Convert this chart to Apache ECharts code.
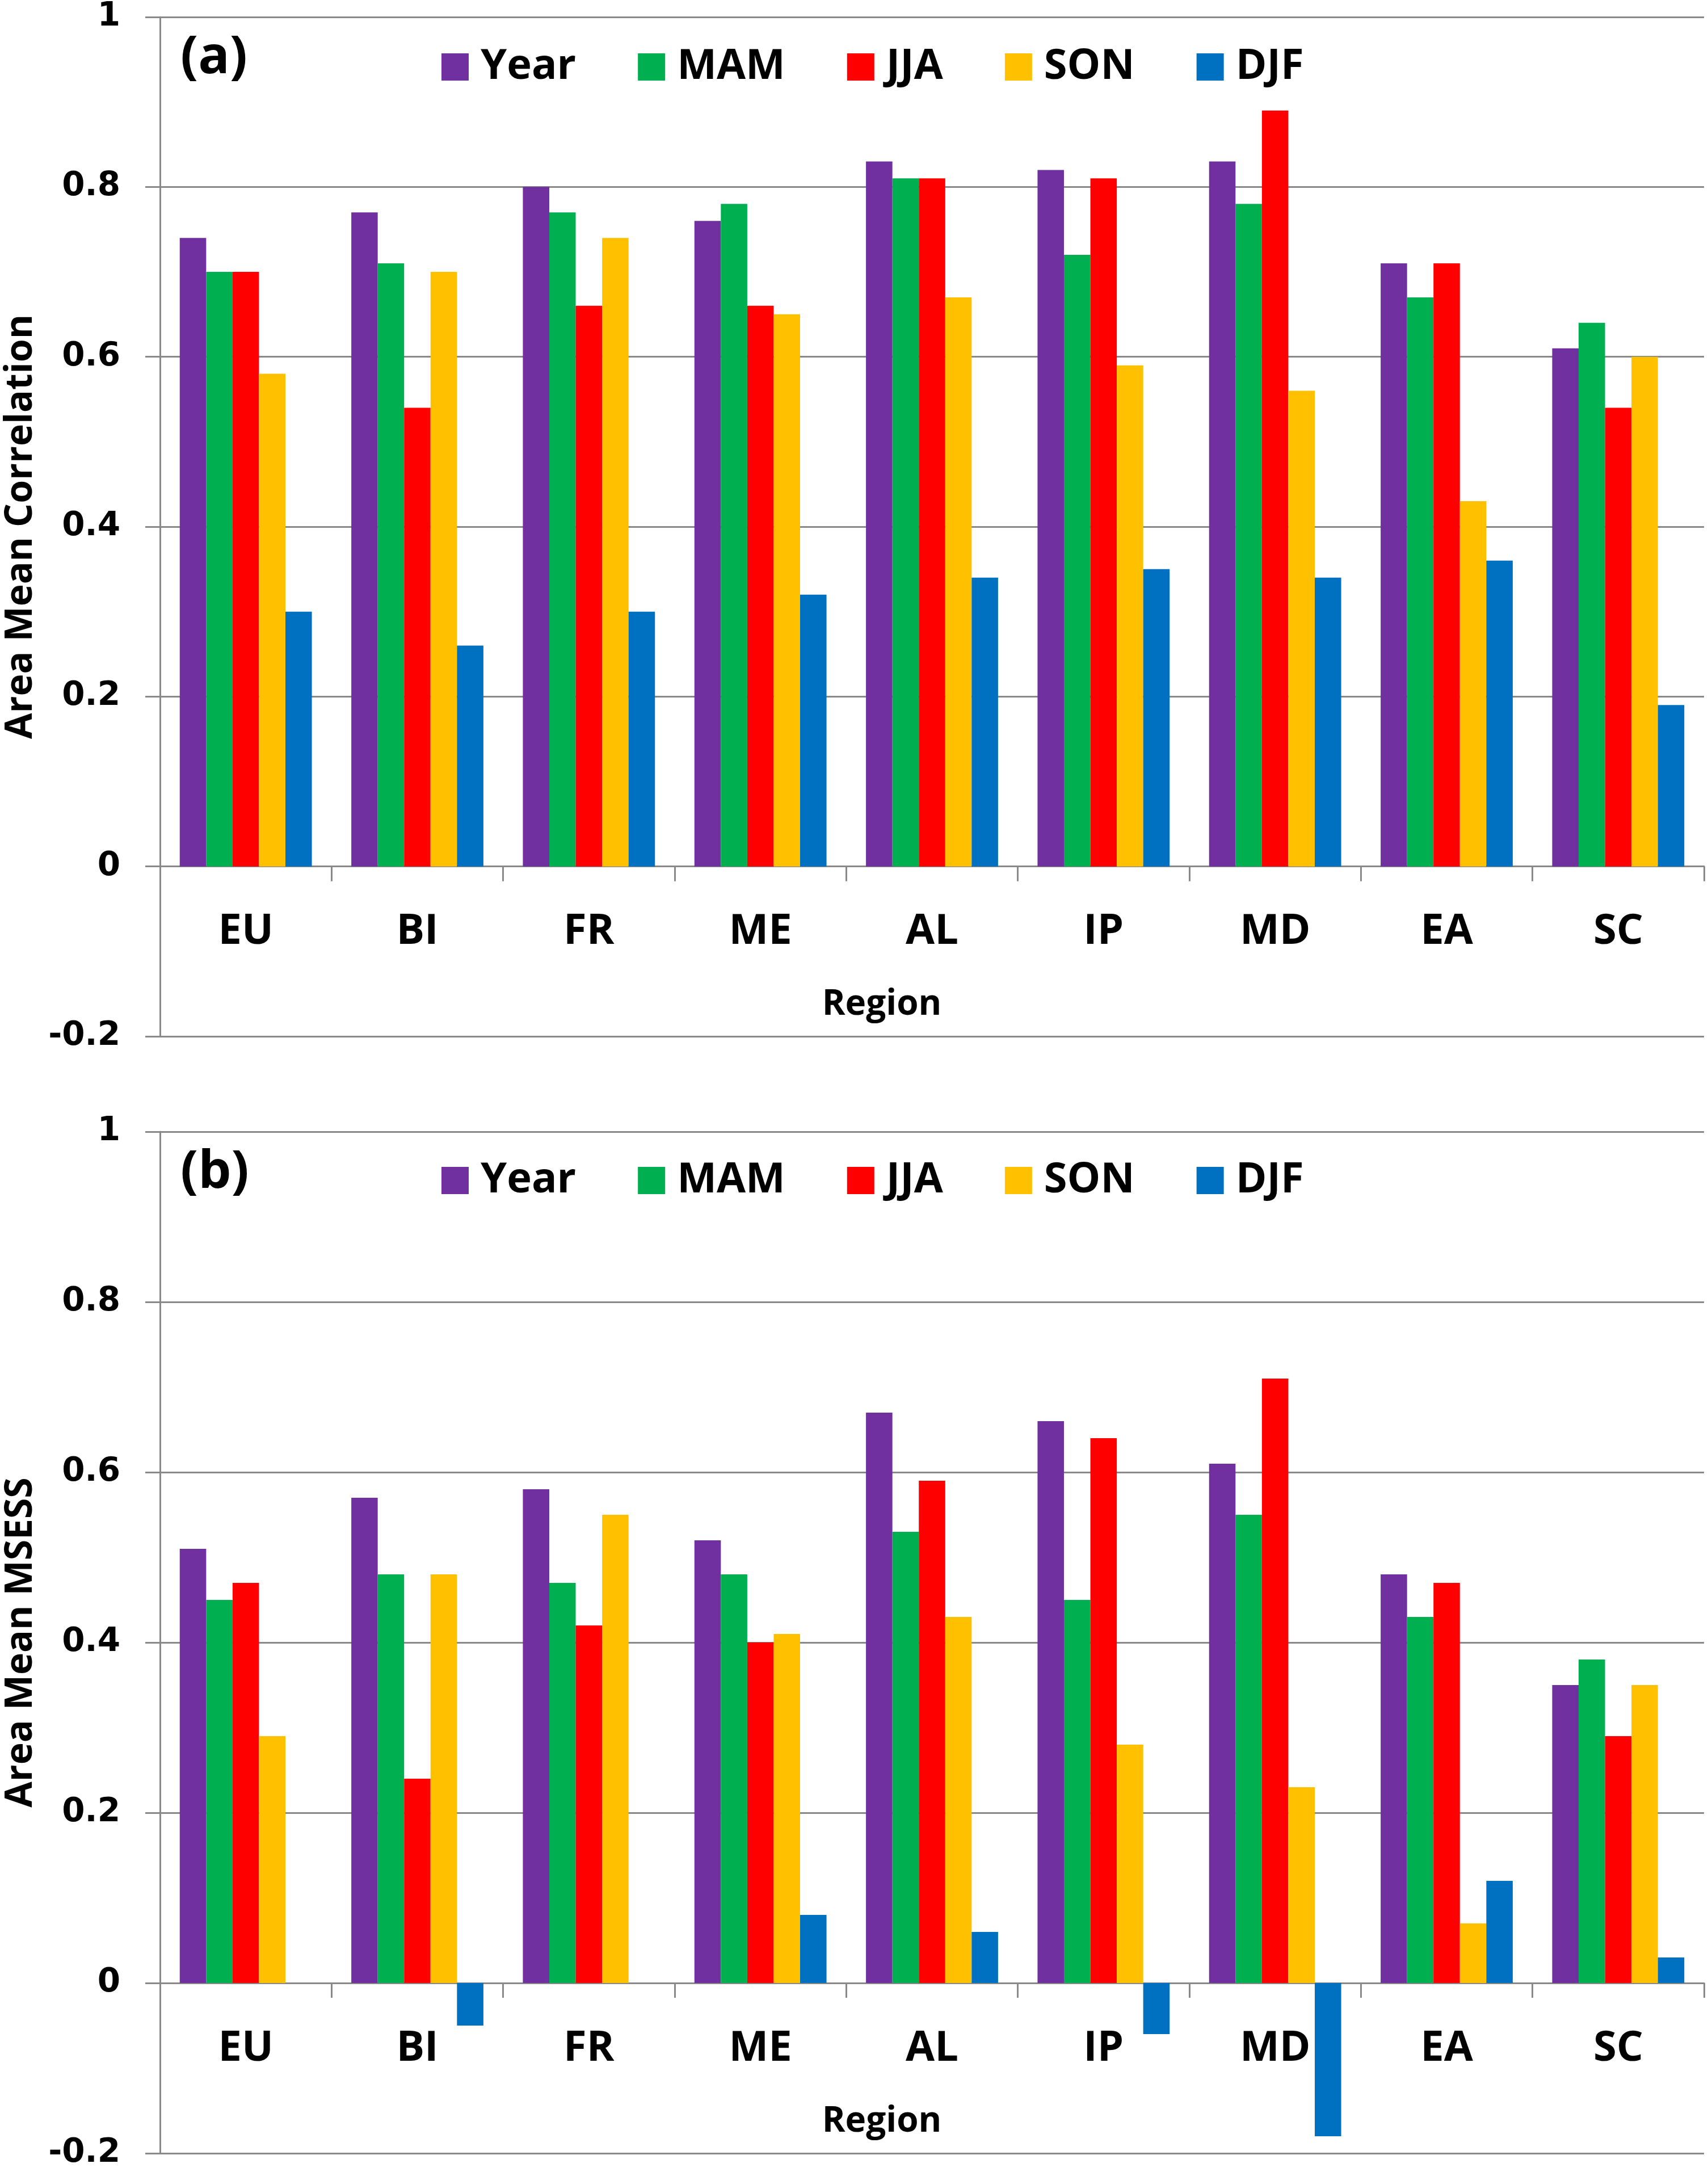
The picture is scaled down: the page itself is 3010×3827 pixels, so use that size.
<!DOCTYPE html>
<html>
<head>
<meta charset="utf-8">
<title>Area mean correlation and MSESS by region</title>
<script src="https://cdn.jsdelivr.net/npm/echarts@6/dist/echarts.min.js"></script>
<style>
	html, body { margin: 0; padding: 0; background: #fff; }
	#chart { width: 3010px; height: 3827px; }
</style>
</head>
<body>
<div id="chart"></div>
<script>
	// regions on the x axis
	var regions = ['EU', 'BI', 'FR', 'ME', 'AL', 'IP', 'MD', 'EA', 'SC'];
	var seasons = ['Year', 'MAM', 'JJA', 'SON', 'DJF'];
	var colors = ['#7030A0', '#00B050', '#FF0000', '#FFC000', '#0070C0'];
	var yTicks = [-0.2, 0, 0.2, 0.4, 0.6, 0.8, 1];

	// (a) area mean correlation
	var corrYear = [0.74, 0.77, 0.80, 0.76, 0.83, 0.82, 0.83, 0.71, 0.61];
	var corrMAM  = [0.70, 0.71, 0.77, 0.78, 0.81, 0.72, 0.78, 0.67, 0.64];
	var corrJJA  = [0.70, 0.54, 0.66, 0.66, 0.81, 0.81, 0.89, 0.71, 0.54];
	var corrSON  = [0.58, 0.70, 0.74, 0.65, 0.67, 0.59, 0.56, 0.43, 0.60];
	var corrDJF  = [0.30, 0.26, 0.30, 0.32, 0.34, 0.35, 0.34, 0.36, 0.19];

	// (b) area mean MSESS
	var msessYear = [0.51, 0.57, 0.58, 0.52, 0.67, 0.66, 0.61, 0.48, 0.35];
	var msessMAM  = [0.45, 0.48, 0.47, 0.48, 0.53, 0.45, 0.55, 0.43, 0.38];
	var msessJJA  = [0.47, 0.24, 0.42, 0.40, 0.59, 0.64, 0.71, 0.47, 0.29];
	var msessSON  = [0.29, 0.48, 0.55, 0.41, 0.43, 0.28, 0.23, 0.07, 0.35];
	var msessDJF  = [0.00, -0.05, 0.00, 0.08, 0.06, -0.06, -0.18, 0.12, 0.03];

	var gridColor = '#898989';
	var font = '"Open Sans", "DejaVu Sans", sans-serif';
	// labels sit just under the zero line, which is one 0.2 step above the grid bottom
	var zeroLift = 299;

	function xAxisFor(idx){
		return {
			type: 'category',
			gridIndex: idx,
			data: regions,
			axisLine: {onZero: true, lineStyle: {color: gridColor, width: 3}},
			axisTick: {show: true, length: 26, lineStyle: {color: gridColor, width: 3}},
			axisLabel: {
				margin: 78 - zeroLift,
				color: '#000',
				fontFamily: font,
				fontWeight: 'bold',
				fontSize: 74
			}
		};
	}

	function yAxisFor(idx, title){
		return {
			type: 'value',
			gridIndex: idx,
			min: yTicks[0],
			max: yTicks[yTicks.length - 1],
			interval: 0.2,
			axisLine: {show: true, lineStyle: {color: gridColor, width: 3}},
			axisTick: {show: true, length: 26, lineStyle: {color: gridColor, width: 3}},
			splitLine: {show: true, lineStyle: {color: gridColor, width: 3}},
			axisLabel: {
				margin: 70,
				color: '#000',
				fontFamily: '"DejaVu Sans", sans-serif',
				fontWeight: 'bold',
				fontSize: 58,
				formatter: function(v){
					return String(Math.round(v * 10) / 10);
				}
			},
			name: title,
			nameLocation: 'middle',
			nameGap: 212,
			nameTextStyle: {
				color: '#000',
				fontFamily: font,
				fontWeight: 'bold',
				fontSize: 66
			}
		};
	}

	function legendFor(top){
		return {
			data: seasons,
			left: 773,
			top: top,
			icon: 'rect',
			itemWidth: 48,
			itemHeight: 48,
			itemGap: 109,
			selectedMode: false,
			textStyle: {
				color: '#000',
				fontFamily: font,
				fontWeight: 'bold',
				fontSize: 74,
				padding: [0, 0, 0, 16]
			}
		};
	}

	function textTitle(text, left, top, size, align){
		return {
			text: text,
			left: left,
			top: top,
			textAlign: align,
			textStyle: {fontFamily: font, fontWeight: 'bold', fontSize: size, color: '#000'}
		};
	}

	function barsFor(idx, lists){
		return lists.map(function(vals, i){
			return {
				name: seasons[i],
				type: 'bar',
				xAxisIndex: idx,
				yAxisIndex: idx,
				data: vals,
				barGap: '0%',
				barCategoryGap: '23%',
				itemStyle: {color: colors[i]},
				emphasis: {disabled: true}
			};
		});
	}

	var chart = echarts.init(document.getElementById('chart'));
	var option = {
		animation: false,
		color: colors,
		grid: [
			{left: 282, right: 7, top: 30, height: 1796, outerBoundsMode: 'none'},
			{left: 282, right: 7, top: 1994, height: 1800, outerBoundsMode: 'none'}
		],
		legend: [legendFor(76), legendFor(2038)],
		title: [
			textTitle('(a)', 313, 52, 92, 'left'),
			textTitle('(b)', 313, 2016, 92, 'left'),
			textTitle('Region', 1549, 1734, 62, 'center'),
			textTitle('Region', 1549, 3702, 62, 'center')
		],
		xAxis: [xAxisFor(0), xAxisFor(1)],
		yAxis: [yAxisFor(0, 'Area Mean Correlation'), yAxisFor(1, 'Area Mean MSESS')],
		series: barsFor(0, [corrYear, corrMAM, corrJJA, corrSON, corrDJF])
			.concat(barsFor(1, [msessYear, msessMAM, msessJJA, msessSON, msessDJF]))
	};
	chart.setOption(option);
</script>
</body>
</html>
